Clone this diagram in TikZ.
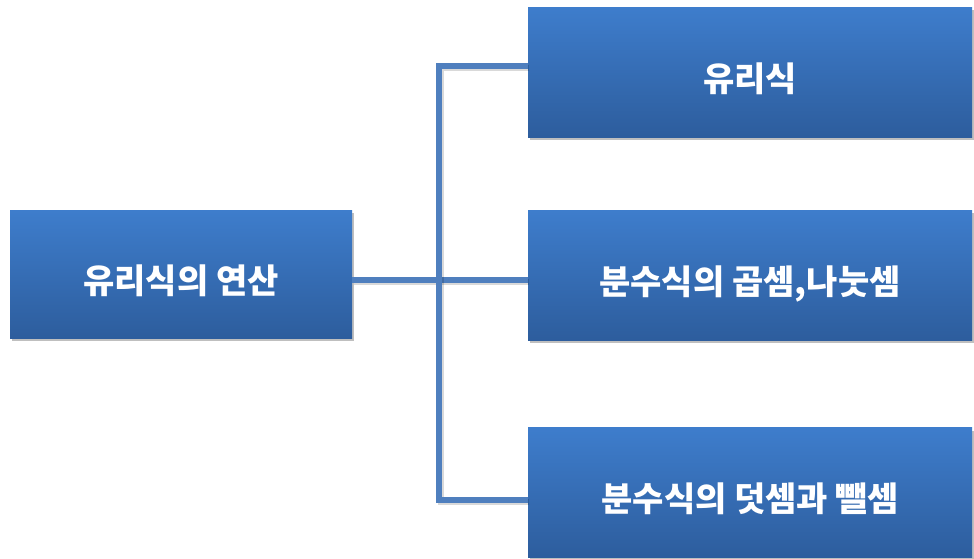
\documentclass[tikz,border=0pt]{standalone}
\usepackage{fontspec}
\newfontfamily\kr{Noto Sans CJK KR}
\usepackage{tikz}
\usetikzlibrary{shadows}
\usetikzlibrary{positioning}
\definecolor{boxtop}{HTML}{3E7DCC}
\definecolor{boxbottom}{HTML}{2D5D9D}
\definecolor{linkblue}{HTML}{4F7FBE}

\begin{document}
\begin{tikzpicture}[x=1pt, y=-1pt]
\tikzstyle{topic} = [rectangle, inner sep=0pt, top color=boxtop, bottom color=boxbottom,
  text=white, font=\kr\bfseries\fontsize{34}{40}\selectfont, text height=42pt, text depth=4pt,
  drop shadow={shadow xshift=2pt, shadow yshift=-3pt, opacity=0.25, fill=black}]
\tikzstyle{link} = [draw=linkblue, line width=6pt,
  preaction={draw=black, opacity=0.15, line width=6pt, transform canvas={xshift=1.5pt, yshift=-2pt}}]
\useasboundingbox (0,0) rectangle (974,558);
\clip (0,0) rectangle (974,558);
\fill [white] (0,0) rectangle (974,558);
\node (root) [topic, minimum width=342pt, minimum height=128pt] at (181,274) {유리식의 연산};
\node (rational) [topic, minimum width=444pt, minimum height=130pt] at (750,72) {유리식};
\node (muldiv) [topic, minimum width=444pt, minimum height=130pt, below = 73pt of rational] {분수식의 곱셈,나눗셈};
\node (addsub) [topic, minimum width=444pt, minimum height=130pt, below = 87pt of muldiv] {분수식의 덧셈과 뺄셈};
\coordinate (fork) at (439,280);
\draw [link] (root.east |- fork) -- (muldiv.west |- fork);
\draw [link] ([yshift=6pt]rational.west) -| (fork);
\draw [link] ([yshift=-7pt]addsub.west) -| (fork);
\end{tikzpicture}
\end{document}
